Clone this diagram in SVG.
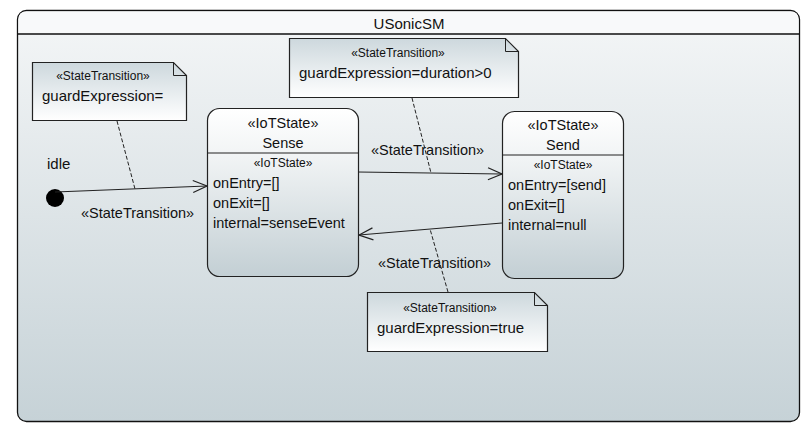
<svg xmlns="http://www.w3.org/2000/svg" width="812" height="440" viewBox="0 0 812 440">
<defs>
<linearGradient id="gBody" x1="0" y1="0" x2="0" y2="1">
<stop offset="0" stop-color="#f4f6f7"/>
<stop offset="1" stop-color="#c6d2d7"/>
</linearGradient>
<linearGradient id="gState" x1="0" y1="0" x2="0" y2="1">
<stop offset="0" stop-color="#ffffff"/>
<stop offset="0.3" stop-color="#f0f3f4"/>
<stop offset="1" stop-color="#c3cfd4"/>
</linearGradient>
<linearGradient id="gNote" x1="0" y1="0" x2="0" y2="1">
<stop offset="0" stop-color="#cdd8dd"/>
<stop offset="1" stop-color="#ffffff"/>
</linearGradient>
<marker id="arr" viewBox="0 0 16 14" refX="15" refY="7" markerWidth="16" markerHeight="14" markerUnits="userSpaceOnUse" orient="auto">
<path d="M1,1 L15,7 L1,13" fill="none" stroke="#222" stroke-width="1.2"/>
</marker>
</defs>
<style>
text{font-family:"Liberation Sans",Arial,sans-serif;fill:#111}
.t15{font-size:15px}
.t14{font-size:14.5px}
.st{font-size:12px}
.state{fill:url(#gState);stroke:#222;stroke-width:1.2}
.note{fill:url(#gNote);stroke:#222;stroke-width:1.2}
.fold{fill:none;stroke:#222;stroke-width:1}
.edge{fill:none;stroke:#222;stroke-width:1.2}
.dash{fill:none;stroke:#222;stroke-width:1;stroke-dasharray:4,2}
</style>
<rect x="0" y="0" width="812" height="440" fill="#ffffff"/>
<g id="frame">
<rect x="17.5" y="10.5" width="782" height="411" rx="9" ry="9" fill="url(#gBody)" stroke="#111" stroke-width="1.3"/>
<path d="M18.5,33.5 V19.5 Q18.5,11.5 26.5,11.5 H790.5 Q798.5,11.5 798.5,19.5 V33.5 Z" fill="#f8f9fa"/>
<line x1="18" y1="34" x2="799" y2="34" stroke="#111" stroke-width="1.5"/>
<text class="t15" x="409" y="29" text-anchor="middle">USonicSM</text>
</g>
<g id="initial">
<circle cx="55" cy="198" r="9" fill="#000"/>
<text class="t15" x="47" y="169">idle</text>
</g>
<g id="Sense">
<rect class="state" x="207.5" y="108.5" width="151" height="168" rx="12" ry="12"/>
<line x1="207.5" y1="153" x2="358.5" y2="153" stroke="#222" stroke-width="1.2"/>
<text class="t14" x="283" y="128" text-anchor="middle">«IoTState»</text>
<text class="t14" x="283" y="148" text-anchor="middle">Sense</text>
<text class="st" x="283" y="167" text-anchor="middle">«IoTState»</text>
<text class="t14" x="213" y="188">onEntry=[]</text>
<text class="t14" x="213" y="208">onExit=[]</text>
<text class="t14" x="213" y="228">internal=senseEvent</text>
</g>
<g id="Send">
<rect class="state" x="502.5" y="111.5" width="121" height="167" rx="12" ry="12"/>
<line x1="502.5" y1="155" x2="623.5" y2="155" stroke="#222" stroke-width="1.2"/>
<text class="t14" x="563" y="130" text-anchor="middle">«IoTState»</text>
<text class="t14" x="563" y="150" text-anchor="middle">Send</text>
<text class="st" x="563" y="169" text-anchor="middle">«IoTState»</text>
<text class="t14" x="508" y="190">onEntry=[send]</text>
<text class="t14" x="508" y="210">onExit=[]</text>
<text class="t14" x="508" y="230">internal=null</text>
</g>
<g id="note1">
<path class="note" d="M32.5,62.5 H173.5 L186.5,75.5 V120.5 H32.5 Z"/>
<path class="fold" d="M173.5,62.5 V75.5 H186.5"/>
<text class="st" x="103" y="80" text-anchor="middle">«StateTransition»</text>
<text class="t15" x="42" y="101">guardExpression=</text>
</g>
<g id="note2">
<path class="note" d="M289.5,38.5 H505.5 L518.5,51.5 V97.5 H289.5 Z"/>
<path class="fold" d="M505.5,38.5 V51.5 H518.5"/>
<text class="st" x="398" y="57" text-anchor="middle">«StateTransition»</text>
<text class="t15" x="299" y="78">guardExpression=duration&gt;0</text>
</g>
<g id="note3">
<path class="note" d="M367.5,292.5 H534.5 L547.5,305.5 V351.5 H367.5 Z"/>
<path class="fold" d="M534.5,292.5 V305.5 H547.5"/>
<text class="st" x="450" y="312" text-anchor="middle">«StateTransition»</text>
<text class="t15" x="377" y="333">guardExpression=true</text>
</g>
<g id="connectors">
<line class="edge" x1="55" y1="192" x2="207" y2="186" marker-end="url(#arr)"/>
<text class="t14" x="81" y="218">«StateTransition»</text>
<line class="edge" x1="358" y1="172" x2="502" y2="174" marker-end="url(#arr)"/>
<text class="t14" x="371" y="155">«StateTransition»</text>
<line class="edge" x1="502" y1="223" x2="359" y2="235" marker-end="url(#arr)"/>
<text class="t14" x="378" y="268">«StateTransition»</text>
<line class="dash" x1="117" y1="121" x2="135" y2="189"/>
<line class="dash" x1="412" y1="98" x2="431" y2="173"/>
<line class="dash" x1="448" y1="292" x2="430" y2="229"/>
</g>
</svg>
